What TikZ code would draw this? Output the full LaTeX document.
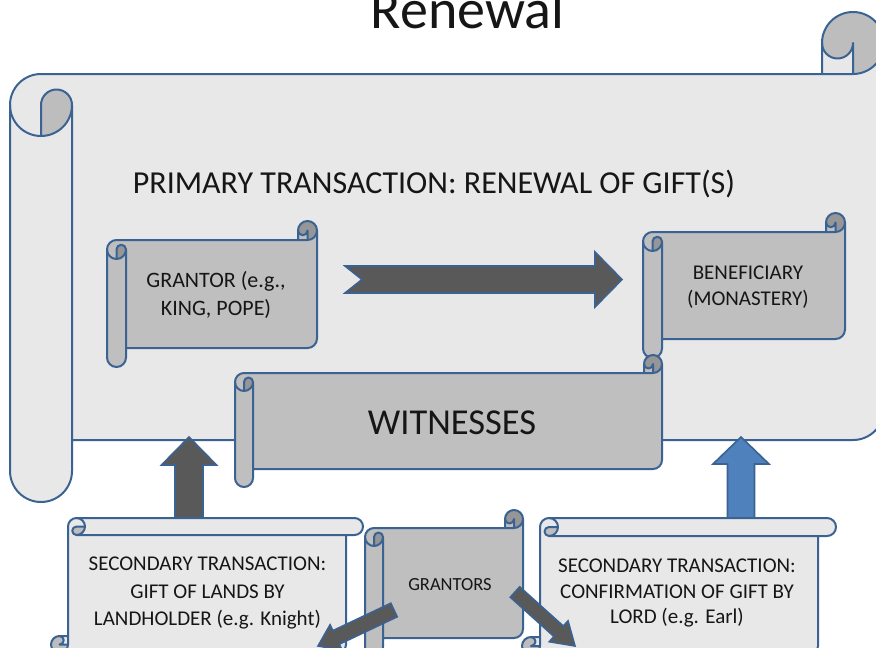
\documentclass[tikz,border=0pt]{standalone}
\usepackage{fontspec}
\setmainfont{Carlito}
\usetikzlibrary{calc}
\definecolor{edge}{RGB}{58,98,146}
\definecolor{paper}{RGB}{232,232,232}
\definecolor{paperdk}{RGB}{189,189,189}
\definecolor{slate}{RGB}{191,191,191}
\definecolor{slatedk}{RGB}{150,150,150}
\definecolor{arrowdk}{RGB}{89,89,89}
\definecolor{arrowbl}{RGB}{79,129,189}
\definecolor{ink}{RGB}{22,22,22}
\tikzset{
  scrolline/.style={draw=edge,line width=2pt,line join=round},
  darkarrow/.style={fill=arrowdk,draw=edge,line width=1.6pt,line join=miter},
  bluearrow/.style={fill=arrowbl,draw=edge,line width=1.6pt,line join=miter},
  label/.style={text=ink,inner sep=0pt,align=center}
}
% horizontal scroll: l t r b ch fill dark
\newcommand\hscroll[7]{%
\pgfmathsetmacro\scL{#1}\pgfmathsetmacro\scT{#2}\pgfmathsetmacro\scR{#3}\pgfmathsetmacro\scB{#4}%
\pgfmathsetmacro\scC{#5}\pgfmathsetmacro\scH{#5/2}\pgfmathsetmacro\scQ{#5/4}%
\fill[#6] (\scR,\scT+\scH) arc[start angle=0,end angle=90,radius=\scH] -- (\scL+\scH,\scT+\scC) arc[start angle=270,end angle=180,radius=\scH] -- (\scL,\scB-\scH) arc[start angle=180,end angle=0,radius=\scH] -- (\scL+\scC,\scB-\scC) -- (\scR-\scH,\scB-\scC) arc[start angle=90,end angle=0,radius=\scH] -- cycle;
\fill[#7] (\scR-\scH,\scT+\scH) circle[radius=\scH];
\fill[#6] (\scR-\scH,\scT+\scH) arc[start angle=0,end angle=180,radius=\scQ] -- (\scR-\scC,\scT+\scC) -- (\scR-\scH,\scT+\scC) -- cycle;
\fill[#7] (\scL+\scH,\scT+\scC+\scH) arc[start angle=180,end angle=360,radius=\scQ] arc[start angle=0,end angle=90,radius=\scH] -- cycle;
\draw[scrolline] (\scR,\scT+\scH) arc[start angle=0,end angle=90,radius=\scH] -- (\scL+\scH,\scT+\scC) arc[start angle=270,end angle=180,radius=\scH] -- (\scL,\scB-\scH) arc[start angle=180,end angle=0,radius=\scH] -- (\scL+\scC,\scB-\scC) -- (\scR-\scH,\scB-\scC) arc[start angle=90,end angle=0,radius=\scH] -- cycle;
\draw[scrolline] (\scR-\scC,\scT+\scC) -- (\scR-\scC,\scT+\scH) arc[start angle=180,end angle=360,radius=\scH];
\draw[scrolline] (\scR-\scH,\scT+\scC) -- (\scR-\scH,\scT+\scH) arc[start angle=0,end angle=180,radius=\scQ];
\draw[scrolline] (\scL+\scC,\scB-\scC) -- (\scL+\scC,\scT+\scC+\scH) arc[start angle=0,end angle=180,radius=\scH];
\draw[scrolline] (\scL+\scH,\scT+2*\scC) -- (\scL+\scH,\scT+\scC+\scH) arc[start angle=180,end angle=360,radius=\scQ];
}
% vertical scroll: l t r b ch fill dark
\newcommand\vscroll[7]{%
\pgfmathsetmacro\scL{#1}\pgfmathsetmacro\scT{#2}\pgfmathsetmacro\scR{#3}\pgfmathsetmacro\scB{#4}%
\pgfmathsetmacro\scC{#5}\pgfmathsetmacro\scH{#5/2}\pgfmathsetmacro\scQ{#5/4}%
\fill[#6] (\scL+\scH,\scB) arc[start angle=90,end angle=0,radius=\scH] -- (\scL+\scC,\scT+\scH) arc[start angle=180,end angle=270,radius=\scH] -- (\scR-\scH,\scT) arc[start angle=-90,end angle=90,radius=\scH] -- (\scR-\scC,\scT+\scC) -- (\scR-\scC,\scB-\scH) arc[start angle=0,end angle=90,radius=\scH] -- cycle;
\fill[#7] (\scL+\scH,\scB-\scH) circle[radius=\scH];
\fill[#6] (\scL+\scH,\scB-\scH) arc[start angle=90,end angle=-90,radius=\scQ] -- (\scL+\scC,\scB-\scC) -- (\scL+\scC,\scB-\scH) -- cycle;
\fill[#7] (\scL+\scC+\scH,\scT+\scH) arc[start angle=-90,end angle=-270,radius=\scQ] arc[start angle=90,end angle=0,radius=\scH] -- cycle;
\draw[scrolline] (\scL+\scH,\scB) arc[start angle=90,end angle=0,radius=\scH] -- (\scL+\scC,\scT+\scH) arc[start angle=180,end angle=270,radius=\scH] -- (\scR-\scH,\scT) arc[start angle=-90,end angle=90,radius=\scH] -- (\scR-\scC,\scT+\scC) -- (\scR-\scC,\scB-\scH) arc[start angle=0,end angle=90,radius=\scH] -- cycle;
\draw[scrolline] (\scL+\scC,\scB-\scC) -- (\scL+\scH,\scB-\scC) arc[start angle=-90,end angle=-270,radius=\scH];
\draw[scrolline] (\scL+\scC,\scB-\scH) -- (\scL+\scH,\scB-\scH) arc[start angle=90,end angle=-90,radius=\scQ];
\draw[scrolline] (\scR-\scC,\scT+\scC) -- (\scL+\scC+\scH,\scT+\scC) arc[start angle=90,end angle=-90,radius=\scH];
\draw[scrolline] (\scL+2*\scC,\scT+\scH) -- (\scL+\scC+\scH,\scT+\scH) arc[start angle=-90,end angle=-270,radius=\scQ];
}
% block arrow: start, end, shaft half width, head half width, head length, style
\newcommand\blockarrow[6]{%
\coordinate (ba) at ($(#2)!#5!(#1)$);
\draw[#6] ($(#1)!#3!90:(#2)$) -- ($(ba)!#3!90:(#2)$) -- ($(ba)!#4!90:(#2)$) -- (#2) -- ($(ba)!#4!-90:(#2)$) -- ($(ba)!#3!-90:(#2)$) -- ($(#1)!#3!-90:(#2)$) -- cycle;
}
\begin{document}
\begin{tikzpicture}[x=1pt,y=-1pt]
\useasboundingbox (0,0) rectangle (876,648);
\clip (0,0) rectangle (876,648);
\fill[white] (0,0) rectangle (876,648);

\node[label,anchor=base,font=\fontsize{56}{60}\selectfont] (title) at (467.5,28) {Renewal};

% main scroll
\hscroll{10}{12}{884}{502}{62}{paper}{paperdk}
\node[label,anchor=base,font=\fontsize{32}{36}\selectfont] (primary) at (434,193) {PRIMARY TRANSACTION: RENEWAL OF GIFT(S)};

% grantor
\hscroll{107}{221}{317}{367}{19}{slate}{slatedk}
\node[label,font=\fontsize{22}{28}\selectfont] (grantor) at (216,295) {GRANTOR (e.g.,\\KING, POPE)};

% beneficiary
\hscroll{643}{213}{845}{358}{19}{slate}{slatedk}
\node[label,font=\fontsize{21}{26}\selectfont] (benef) at (748,287) {BENEFICIARY\\(MONASTERY)};

% notched arrow grantor -> beneficiary
\coordinate (gS) at (345,279.5);
\coordinate (gE) at (622,279.5);
\coordinate (gB) at ($(gE)!27pt!(gS)$);
\draw[darkarrow] ($(gS)!13.5pt!90:(gE)$) -- ($(gB)!13.5pt!90:(gE)$) -- ($(gB)!27.5pt!90:(gE)$) -- (gE) -- ($(gB)!27.5pt!-90:(gE)$) -- ($(gB)!13.5pt!-90:(gE)$) -- ($(gS)!13.5pt!-90:(gE)$) -- ($(gS)!17pt!(gE)$) -- cycle;

% witnesses
\hscroll{235}{355}{662}{487}{18}{slate}{slatedk}
\node[label,anchor=base,font=\fontsize{36.5}{40}\selectfont] (witness) at (452,434) {WITNESSES};

% up arrows
\coordinate (lupS) at (189,528);
\coordinate (lupE) at (189,437);
\blockarrow{lupS}{lupE}{14pt}{27.5pt}{28pt}{darkarrow}
\coordinate (rupS) at (741,528);
\coordinate (rupE) at (741,437);
\blockarrow{rupS}{rupE}{13.5pt}{28pt}{27pt}{bluearrow}

% secondary left
\vscroll{51}{518}{363}{653}{17}{paper}{paperdk}
\node[label,font=\fontsize{21}{27.5}\selectfont] (sec1) at (207.5,593) {SECONDARY TRANSACTION:\\GIFT OF LANDS BY\\LANDHOLDER (e.g. Knight)};

% grantors
\hscroll{365}{510}{523}{656}{18}{slate}{slatedk}
\node[label,anchor=base,font=\fontsize{18.5}{22}\selectfont] (grantors) at (450,590) {GRANTORS};

% secondary right
\vscroll{522}{518}{836}{655}{18}{paper}{paperdk}
\node[label,font=\fontsize{21}{25.5}\selectfont] (sec2) at (677,593) {SECONDARY TRANSACTION:\\CONFIRMATION OF GIFT BY\\LORD (e.g. Earl)};

% diagonal arrows
\coordinate (dlS) at (394,610);
\coordinate (dlE) at (318,646);
\blockarrow{dlS}{dlE}{7.5pt}{14pt}{20pt}{darkarrow}
\coordinate (drS) at (515,592);
\coordinate (drE) at (575,646);
\blockarrow{drS}{drE}{7pt}{14pt}{22pt}{darkarrow}
\end{tikzpicture}
\end{document}
